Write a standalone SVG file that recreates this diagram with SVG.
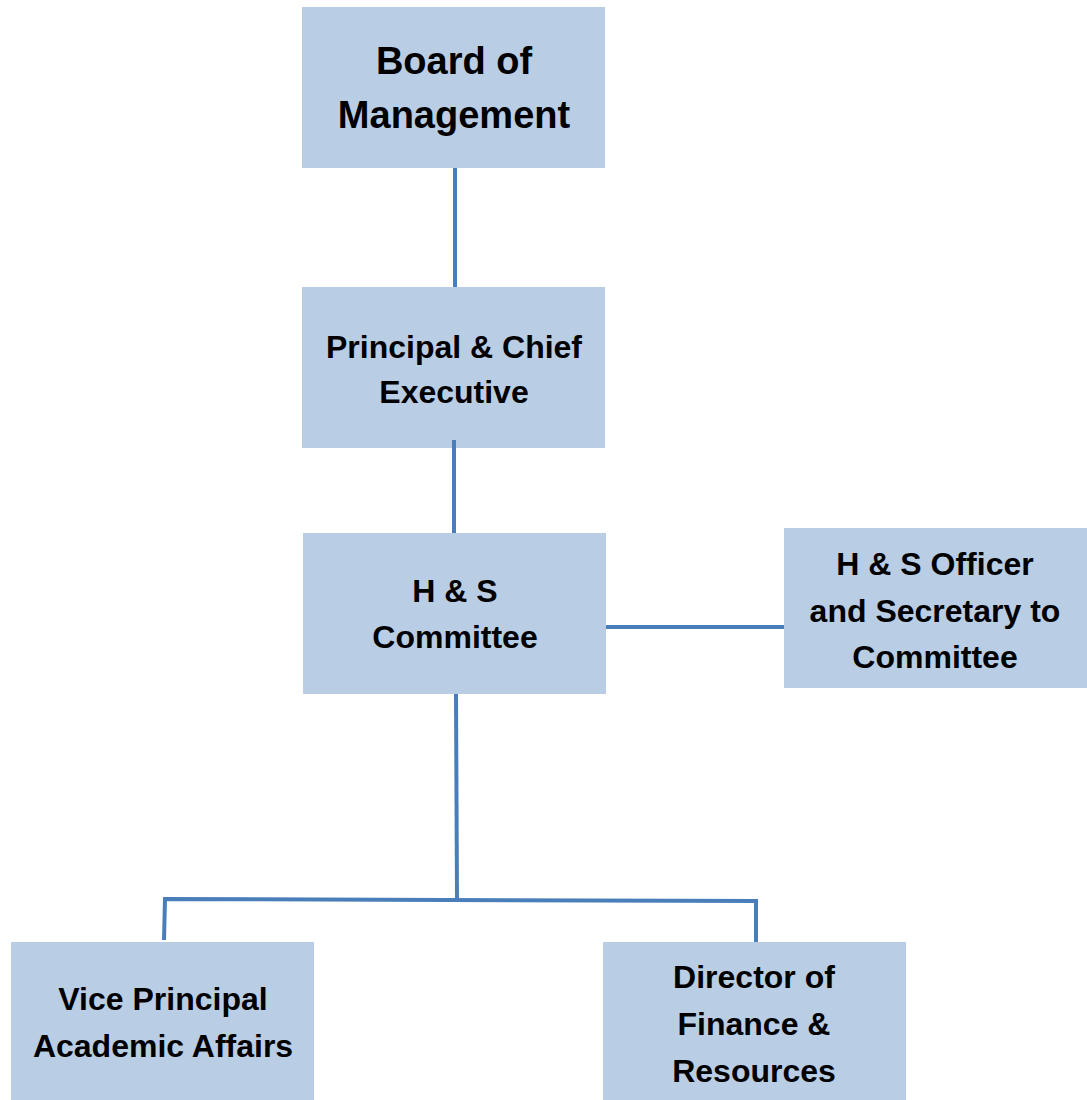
<svg xmlns="http://www.w3.org/2000/svg" width="1087" height="1100" viewBox="0 0 1087 1100">
  <style>
    .box { fill: #b9cde5; }
    .wire { fill: none; stroke: #4a7ebb; stroke-width: 4; }
    .lbl { font-family: "Liberation Sans", Arial, sans-serif; font-weight: bold; fill: #000; text-anchor: middle; }
  </style>
  <rect width="1087" height="1100" fill="#ffffff"/>

  <g id="board">
    <rect class="box" x="302" y="7" width="303" height="161"/>
    <text class="lbl" font-size="38" x="454" y="74">Board of</text>
    <text class="lbl" font-size="38" x="454" y="128">Management</text>
  </g>

  <g id="principal">
    <rect class="box" x="302" y="287" width="303" height="161"/>
    <text class="lbl" font-size="32" x="454" y="358">Principal &amp; Chief</text>
    <text class="lbl" font-size="32" x="454" y="403">Executive</text>
  </g>

  <g id="committee">
    <rect class="box" x="303" y="533" width="303" height="161"/>
    <text class="lbl" font-size="32" x="455" y="602">H &amp; S</text>
    <text class="lbl" font-size="32" x="455" y="648">Committee</text>
  </g>

  <g id="officer">
    <rect class="box" x="784" y="528" width="303" height="160"/>
    <text class="lbl" font-size="32" x="935" y="575">H &amp; S Officer</text>
    <text class="lbl" font-size="32" x="935" y="622">and Secretary to</text>
    <text class="lbl" font-size="32" x="935" y="668">Committee</text>
  </g>

  <g id="vice-principal">
    <rect class="box" x="11" y="942" width="303" height="158"/>
    <text class="lbl" font-size="32" x="163" y="1010">Vice Principal</text>
    <text class="lbl" font-size="32" x="163" y="1057">Academic Affairs</text>
  </g>

  <g id="finance">
    <rect class="box" x="603" y="942" width="303" height="158"/>
    <text class="lbl" font-size="32" x="754" y="988">Director of</text>
    <text class="lbl" font-size="32" x="754" y="1035">Finance &amp;</text>
    <text class="lbl" font-size="32" x="754" y="1082">Resources</text>
  </g>

  <!-- connectors, drawn over the boxes -->
  <g id="connectors">
    <line class="wire" x1="455" y1="168" x2="455" y2="287"/>
    <line class="wire" x1="454" y1="440" x2="454" y2="533"/>
    <line class="wire" x1="606" y1="627" x2="784" y2="627"/>
    <line class="wire" x1="456" y1="694" x2="457" y2="900"/>
    <polyline class="wire" points="164,940 165,899 756,901 756,942"/>
  </g>
</svg>
